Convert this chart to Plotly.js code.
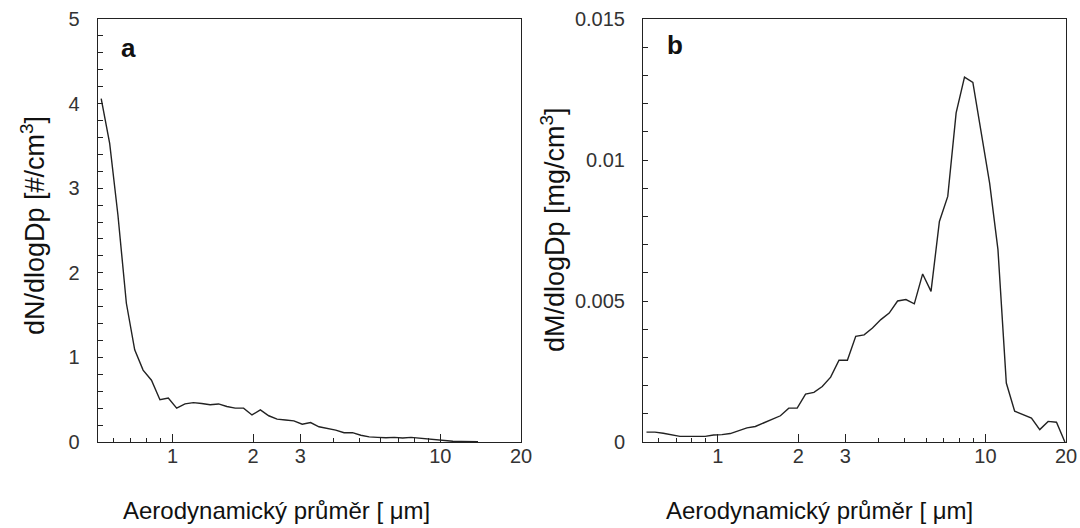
<!DOCTYPE html>
<html>
<head>
<meta charset="utf-8">
<script src="https://cdn.plot.ly/plotly-3.0.1.min.js"></script>
<style>html,body{margin:0;padding:0;background:#fff;}#chart{width:1080px;height:528px;}</style>
</head>
<body>
<div id="chart"></div>
<script>
// APS channel midpoints (aerodynamic diameter, µm)
const diameters = [0.542,0.583,0.626,0.673,0.723,0.777,0.835,0.898,0.965,1.037,1.114,1.197,1.286,1.382,1.486,1.596,1.715,1.843,1.981,2.129,2.288,2.458,2.642,2.839,3.051,3.278,3.523,3.786,4.068,4.371,4.698,5.048,5.425,5.829,6.264,6.732,7.234,7.774,8.354,8.977,9.647,10.37,11.14,11.97,12.86,13.82,14.86,15.96,17.15,18.43,19.81];
// panel a: dN/dlogDp [#/cm3]
const numberConc = [4.06,3.53,2.68,1.64,1.09,0.85,0.73,0.50,0.52,0.40,0.45,0.465,0.455,0.44,0.45,0.42,0.40,0.40,0.32,0.38,0.31,0.27,0.26,0.25,0.21,0.23,0.18,0.16,0.14,0.11,0.11,0.08,0.06,0.055,0.05,0.055,0.047,0.055,0.044,0.04,0.024,0.012,0.008,0.006,0.005,0.004];
// panel b: dM/dlogDp [mg/cm3]
const massConc = [0.00035,0.00035,0.00031,0.00025,0.0002,0.0002,0.0002,0.0002,0.00025,0.00026,0.0003,0.0004,0.0005,0.00055,0.00067,0.0008,0.00093,0.0012,0.0012,0.0017,0.00176,0.00197,0.0023,0.0029,0.0029,0.00375,0.0038,0.00404,0.00434,0.00457,0.005,0.00505,0.0049,0.00596,0.00534,0.00782,0.00871,0.01167,0.01294,0.01275,0.01096,0.00918,0.00682,0.00209,0.00109,0.00097,0.00085,0.00044,0.00073,0.0007,0.0];
const xTickVals = [1,2,3,10,20];
const xTickText = ['1','2','3','10','20'];
const xMinorVals = [0.6,0.7,0.8,0.9,4,5,6,7,8,9];
const panelLetters = ['a','b'];
const yTitles = ['dN/dlogDp [#/cm<sup>3</sup>]','dM/dlogDp [mg/cm<sup>3</sup>]'];
const xTitle = 'Aerodynamický průměr [ μm]';

const W = 1080, H = 528;
const font = '"Liberation Sans", Arial, sans-serif';
const lineCol = '#222';

function px(v){return v/W;}
function py(v){return 1 - v/H;}

function xaxisDef(l, r){
  return {
    type:'log', domain:[px(l), px(r)], range:[Math.log10(0.526), Math.log10(20)],
    tickmode:'array', tickvals:xTickVals, ticktext:xTickText,
    ticks:'inside', ticklen:8, tickwidth:1, tickcolor:'#222',
    minor:{tickmode:'array', tickvals:xMinorVals, ticks:'inside', ticklen:4, tickwidth:1, tickcolor:'#222', showgrid:false},
    showline:true, linecolor:'#222', linewidth:1, mirror:true,
    showgrid:false, zeroline:false, fixedrange:true,
    tickfont:{family:font, size:20, color:'#333'}, ticklabelstandoff:-4
  };
}
function yaxisDef(range, dtick, minorD, anchor){
  return {
    domain:[py(442), py(19)], range:range, dtick:dtick, tick0:0,
    ticks:'inside', ticklen:5, tickwidth:1, tickcolor:'#222',
    minor:{dtick:minorD, tick0:0, ticks:'inside', ticklen:5, tickwidth:1, tickcolor:'#222', showgrid:false},
    showline:true, linecolor:'#222', linewidth:1, mirror:true,
    showgrid:false, zeroline:false, fixedrange:true, anchor:anchor,
    tickfont:{family:font, size:20, color:'#333'}, ticklabelstandoff:13
  };
}

const traces = [
  {x:diameters.slice(0, numberConc.length), y:numberConc, xaxis:'x', yaxis:'y', mode:'lines', line:{color:lineCol, width:1.4}, hoverinfo:'skip'},
  {x:diameters, y:massConc, xaxis:'x2', yaxis:'y2', mode:'lines', line:{color:lineCol, width:1.4}, hoverinfo:'skip'}
];

const xa1 = xaxisDef(97.7, 521); xa1.anchor='y';
const xa2 = xaxisDef(643, 1066); xa2.anchor='y2';

const ann = [
  {text:panelLetters[0], x:px(128), y:py(48), xref:'paper', yref:'paper', showarrow:false, xanchor:'center', yanchor:'middle', font:{family:font, size:26, color:'#111', weight:'bold'}},
  {text:panelLetters[1], x:px(675), y:py(45), xref:'paper', yref:'paper', showarrow:false, xanchor:'center', yanchor:'middle', font:{family:font, size:26, color:'#111', weight:'bold'}},
  {text:yTitles[0], x:px(33), y:py(226), xref:'paper', yref:'paper', showarrow:false, textangle:-90, xanchor:'center', yanchor:'middle', font:{family:font, size:27, color:'#111'}},
  {text:yTitles[1], x:px(553), y:py(230), xref:'paper', yref:'paper', showarrow:false, textangle:-90, xanchor:'center', yanchor:'middle', font:{family:font, size:27, color:'#111'}},
  {text:xTitle, x:px(276), y:py(510), xref:'paper', yref:'paper', showarrow:false, xanchor:'center', yanchor:'middle', font:{family:font, size:24, color:'#111'}},
  {text:xTitle, x:px(819), y:py(510), xref:'paper', yref:'paper', showarrow:false, xanchor:'center', yanchor:'middle', font:{family:font, size:24, color:'#111'}}
];

const layout = {
  width:W, height:H, margin:{l:0, r:0, t:0, b:0},
  paper_bgcolor:'#fff', plot_bgcolor:'#fff', showlegend:false,
  xaxis:xa1, yaxis:yaxisDef([0,5], 1, 0.2, 'x'),
  xaxis2:xa2, yaxis2:yaxisDef([0,0.015], 0.005, 0.001, 'x2'),
  annotations:ann
};

Plotly.newPlot('chart', traces, layout, {staticPlot:true, displayModeBar:false});
</script>
</body>
</html>
